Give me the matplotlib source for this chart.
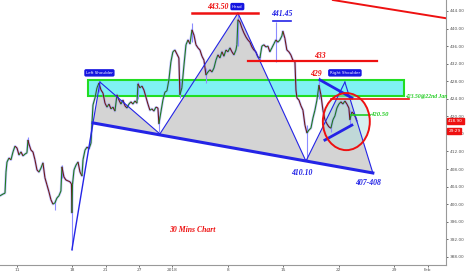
import numpy as np
import matplotlib
matplotlib.use("Agg")
import matplotlib.pyplot as plt
from matplotlib.collections import LineCollection
from matplotlib.patches import Rectangle, Ellipse

# x positions are trading days counted from 11 Dec (0) ; prices in rupees
day = [-1.53, -1.26, -1.08, -0.99, -0.90, -0.72, -0.54, -0.36, -0.18, 0.00,
       0.18, 0.36, 0.54, 0.72, 0.90, 0.99, 1.08, 1.26, 1.44, 1.62,
       1.80, 1.98, 2.16, 2.34, 2.52, 2.70, 2.88, 3.06, 3.24, 3.42,
       3.60, 3.78, 3.96, 4.05, 4.23, 4.41, 4.59, 4.77, 4.91, 4.95,
       5.00, 5.14, 5.32, 5.50, 5.68, 5.86, 5.95, 6.13, 6.31, 6.49,
       6.67, 6.76, 6.85, 7.03, 7.21, 7.39, 7.57, 7.75, 7.93, 8.11,
       8.29, 8.47, 8.65, 8.83, 9.01, 9.19, 9.37, 9.55, 9.73, 9.91,
       10.09, 10.27, 10.45, 10.63, 10.81, 10.90, 11.08, 11.26, 11.44, 11.62,
       11.80, 11.98, 12.16, 12.34, 12.52, 12.70, 12.79, 12.97, 13.15, 13.33,
       13.51, 13.69, 13.87, 14.05, 14.23, 14.41, 14.59, 14.68, 14.86, 15.05,
       15.23, 15.41, 15.59, 15.77, 15.95, 16.13, 16.31, 16.49, 16.67, 16.85,
       17.03, 17.21, 17.39, 17.57, 17.75, 17.93, 18.11, 18.29, 18.47, 18.65,
       18.83, 19.01, 19.19, 19.37, 19.55, 19.73, 19.82, 19.91, 20.09, 20.27,
       20.45, 20.63, 20.81, 20.99, 21.17, 21.35, 21.53, 21.71, 21.89, 22.07,
       22.25, 22.43, 22.61, 22.79, 22.97, 23.15, 23.33, 23.51, 23.69, 23.87,
       23.96, 24.14, 24.32, 24.50, 24.68, 24.86, 25.05, 25.14, 25.23, 25.41,
       25.59, 25.77, 25.95, 26.13, 26.31, 26.49, 26.67, 26.85, 27.03, 27.21,
       27.39, 27.57, 27.75, 27.93, 28.11, 28.29, 28.47, 28.65, 28.83, 29.01,
       29.19, 29.37, 29.55, 29.73, 29.91, 30.00, 30.18, 30.36, 30.54, 30.63]
price = [401.9, 402.3, 402.5, 407.3, 409.6, 410.5, 410.1, 411.9, 413.2, 412.8,
         411.2, 411.9, 411.0, 411.4, 411.7, 414.6, 413.7, 412.3, 411.9, 410.1,
         407.8, 407.3, 408.2, 409.4, 406.0, 404.4, 402.8, 401.0, 400.0, 400.3,
         401.4, 401.9, 403.0, 408.5, 406.2, 405.5, 405.3, 405.1, 404.6, 398.0,
         404.4, 407.8, 408.9, 409.6, 407.3, 406.4, 410.1, 412.3, 413.0, 412.6,
         413.9, 418.5, 422.6, 424.2, 426.5, 427.6, 426.0, 425.3, 423.0, 422.1,
         422.8, 421.7, 422.1, 421.2, 424.9, 423.7, 422.8, 423.7, 422.4, 421.9,
         422.8, 423.3, 422.8, 423.5, 423.0, 427.4, 426.5, 426.9, 426.0, 424.4,
         422.8, 421.4, 421.7, 421.2, 422.1, 421.9, 418.3, 421.0, 423.7, 425.5,
         425.8, 428.3, 432.4, 434.7, 435.1, 434.2, 433.3, 424.9, 426.5, 431.7,
         436.3, 437.4, 436.5, 439.7, 438.5, 436.3, 435.6, 435.1, 433.7, 432.8,
         429.4, 430.1, 430.6, 430.1, 431.0, 432.8, 434.0, 433.3, 434.7, 433.7,
         435.1, 434.7, 435.6, 434.7, 434.0, 435.1, 436.3, 442.0, 441.5, 440.1,
         439.0, 438.1, 437.4, 436.9, 435.8, 435.1, 434.7, 433.5, 433.3, 436.0,
         436.3, 435.8, 436.0, 434.7, 435.6, 436.5, 437.4, 436.9, 437.4, 438.3,
         439.4, 437.8, 435.1, 434.7, 434.0, 432.8, 432.4, 426.0, 424.2, 423.7,
         422.4, 421.4, 418.0, 416.2, 416.9, 417.3, 419.6, 421.4, 423.7, 427.1,
         424.9, 421.4, 419.2, 418.3, 417.6, 417.3, 419.2, 420.1, 421.9, 422.8,
         423.3, 422.8, 423.5, 422.8, 421.9, 419.2, 421.0, 420.5, 419.6, 418.9]

# long wicks (day, low, high)
wick_day = [0.99, 3.42, 4.05, 4.95, 7.39, 10.90, 12.79, 14.68, 15.77, 17.03,
            19.91, 21.89, 23.33, 26.13, 27.21, 28.29, 30.00]
wick_lo = [413.5, 398.6, 406.0, 389.6, 425.5, 424.0, 416.5, 424.2, 437.0, 427.6,
           436.0, 432.4, 432.4, 410.1, 424.0, 416.4, 418.0]
wick_hi = [415.3, 401.0, 409.0, 405.0, 428.0, 427.9, 420.0, 428.0, 441.3, 431.0,
           443.5, 434.5, 441.45, 418.0, 428.9, 418.5, 421.5]

tick_pos = [0, 5, 8, 11, 14, 19, 24, 29, 34, 37]
tick_lab = ['11', '18', '21', '27', '2018', '8', '15', '22', '29', 'Feb']

# pattern points (day, price)
left_sh = [(6.85, 418.5), (7.48, 427.8), (12.88, 416.0)]
head = [(12.88, 416.0), (19.91, 443.5), (26.04, 409.8)]
right_sh = [(26.04, 409.8), (29.55, 427.8), (32.07, 407.1)]
neck = [(6.85, 418.5), (32.07, 407.1)]
xa = [(4.95, 389.6), (6.85, 418.5)]

fig = plt.figure(figsize=(4.66, 2.75), dpi=100)
ax = fig.add_axes([0, 0.0364, 0.958, 0.9636])

serif = dict(family=['Liberation Serif', 'DejaVu Serif'], style='italic', weight='bold')

# gray pattern fills
for poly in (left_sh, head, right_sh):
    xs, ys = zip(*poly)
    ax.fill(xs, ys, color='#d4d4d4', zorder=1, lw=0)

# supply zone
ax.add_patch(Rectangle((6.40, 424.6), 28.46, 3.7, facecolor='#7ff2f2',
                       edgecolor='#22dd22', lw=1.5, zorder=2))

# circle
ax.add_patch(Ellipse((29.68, 418.8), 4.23, 13.0, facecolor='#a8dede', alpha=0.45,
                     zorder=2))
ax.add_patch(Ellipse((29.68, 418.8), 4.23, 13.0, facecolor='none',
                     edgecolor='#ee1111', lw=1.4, zorder=6))

# price path
x = np.array(day)
y = np.array(price)
ax.plot(x, y, color='#8c8cff', lw=1.8, alpha=0.5, zorder=3)
ax.vlines(wick_day, wick_lo, wick_hi, color='#8c8cff', lw=0.8, zorder=3)
segs = [[(x[i], y[i]), (x[i + 1], y[i + 1])] for i in range(len(x) - 1)]
cols = ['#1f7a1f' if y[i + 1] >= y[i] else '#6e1a1a' for i in range(len(x) - 1)]
ax.add_collection(LineCollection(segs, colors=cols, lw=0.8, zorder=4))

# blue pattern lines
blue = '#2424e6'
for pts, lw in ((xa, 1.0), (neck, 2.2)):
    xs, ys = zip(*pts)
    ax.plot(xs, ys, color=blue, lw=lw, zorder=5)
for poly in (left_sh, head, right_sh):
    xs, ys = zip(*poly)
    ax.plot(xs[1:], ys[1:], color=blue, lw=0.8, zorder=5)
    ax.plot(xs[:2], ys[:2], color=blue, lw=0.8, zorder=5)
ax.plot([27.30, 30.18], [428.3, 424.2], color=blue, lw=2.0, zorder=5)
ax.plot([27.75, 30.18], [414.6, 418.0], color=blue, lw=2.0, zorder=5)
ax.plot([23.06, 24.68], [441.7, 441.7], color=blue, lw=1.2, zorder=5)

# red / green levels
ax.plot([15.77, 21.71], [443.5, 443.5], color='#ee1111', lw=1.8, zorder=5)
ax.plot([20.81, 32.43], [432.6, 432.6], color='#ee1111', lw=1.6, zorder=5)
ax.plot([28.29, 35.32], [423.9, 423.9], color='#ee1111', lw=1.2, zorder=5)
ax.plot([28.47, 40.0], [446.5, 441.8], color='#ee1111', lw=1.4, zorder=5)
ax.plot([30.09, 31.80], [420.4, 420.4], color='#22cc22', lw=1.2, zorder=5)

# labels
fs = 5.6
ax.text(18.1, 445.0, '443.50', color='#ee1111', fontsize=fs, ha='center', va='center', **serif)
ax.text(23.87, 443.3, '441.45', color=blue, fontsize=fs, ha='center', va='center', **serif)
ax.text(27.30, 433.8, '433', color='#ee1111', fontsize=fs, ha='center', va='center', **serif)
ax.text(26.95, 429.7, '429', color='#ee1111', fontsize=fs, ha='center', va='center', **serif)
ax.text(34.95, 424.6, '423.50@22nd Jan', color='#22cc22', fontsize=4.1, ha='left', va='center', **serif)
ax.text(31.85, 420.4, '420.50', color='#22cc22', fontsize=4.8, ha='left', va='center', **serif)
ax.text(25.68, 407.2, '410.10', color=blue, fontsize=fs, ha='center', va='center', **serif)
ax.text(31.62, 404.9, '407-408', color=blue, fontsize=fs, ha='center', va='center', **serif)
ax.text(15.77, 394.1, '30 Mins Chart', color='#ee1111', fontsize=fs, ha='center', va='center', **serif)

box = dict(boxstyle='round,pad=0.25', fc='#1515e0', ec='#1515e0')
for xx, yy, s in ((19.86, 445.0, 'Head'), (7.43, 429.9, 'Left Shoulder'),
                  (29.55, 429.9, 'Right Shoulder')):
    ax.text(xx, yy, s, color='white', fontsize=2.9, ha='center', va='center',
            bbox=box, zorder=7)

# axes styling
ax.set_xlim(-1.53, 38.7)
ax.set_ylim(386.14, 446.5)
ax.yaxis.tick_right()
ax.set_yticks(np.arange(388, 445, 4))
ax.set_yticklabels(['%.2f' % v for v in np.arange(388, 445, 4)])
ax.set_xticks(tick_pos)
ax.set_xticklabels(tick_lab)
ax.tick_params(labelsize=3.1, colors='#555555', length=1.5, width=0.6, pad=1.0)
for s in ('top', 'left'):
    ax.spines[s].set_visible(False)
for s in ('right', 'bottom'):
    ax.spines[s].set_color('#999999')
    ax.spines[s].set_linewidth(0.8)

# last price tags
tr = ax.get_yaxis_transform()
tag = dict(boxstyle='square,pad=0.2', fc='#ee1111', ec='#ee1111')
ax.text(1.004, 418.9, '418.90', transform=tr, color='white', fontsize=3.1,
        ha='left', va='center', zorder=8, clip_on=False, bbox=tag)
ax.text(1.004, 416.7, '29:29', transform=tr, color='white', fontsize=3.1,
        ha='left', va='center', zorder=8, clip_on=False, bbox=tag)

fig.savefig('out.png', dpi=100)
